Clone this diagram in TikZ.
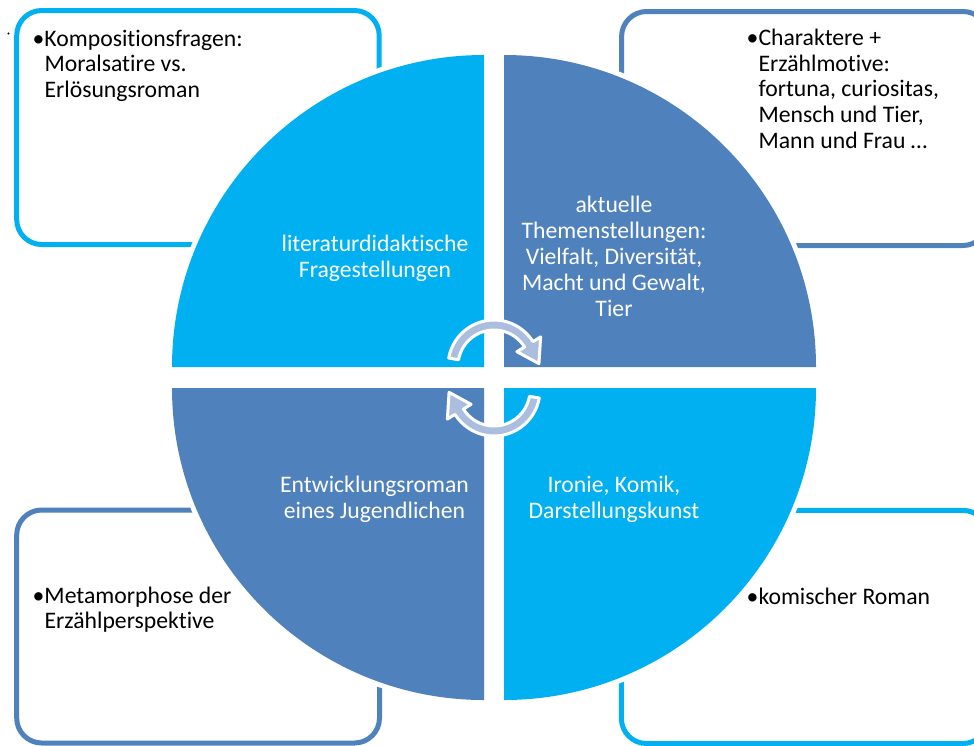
\documentclass[tikz,border=0pt]{standalone}
\usepackage{fontspec}
\setmainfont{Carlito}[Ligatures=NoCommon]
\definecolor{lightb}{HTML}{00B0F0}
\definecolor{steelb}{HTML}{4F81BD}
\definecolor{arrowb}{HTML}{ABBEDD}
\begin{document}
\begin{tikzpicture}[x=1pt,y=-1pt,
  boxline/.style={line width=5pt, rounded corners=25pt},
  halo/.style={draw=white, line width=10pt, line join=round},
  cyc/.style={fill=arrowb, draw=white, line width=3pt, line join=round},
  blacktxt/.style={anchor=base west, align=left, inner sep=0pt, text=black,
    font=\fontsize{23.7}{25.6}\selectfont},
  whitetxt/.style={anchor=base, align=center, inner sep=0pt, text=white,
    font=\fontsize{23.7}{26}\selectfont}]
\useasboundingbox (0,0) rectangle (974,745);
\clip (0,0) rectangle (974,745);
\fill[white] (0,0) rectangle (974,745);

% outer boxes
\draw[boxline, draw=lightb] (16.7,10.5) rectangle (379.2,244.5);
\draw[boxline, draw=steelb] (621.6,11.5) rectangle (988,245.5);
\draw[boxline, draw=steelb] (16.7,510) rectangle (379.5,743);
\draw[boxline, draw=lightb] (621.4,510.4) rectangle (988,743.5);

% small dot top left
\fill[black] (8.5,33.5) circle[radius=1.2];

% quadrant halos
\path[halo] (484,367) -- (172,367) arc[start angle=180,end angle=270,radius=312] -- cycle;
\path[halo] (504,367) -- (504,55) arc[start angle=270,end angle=360,radius=312] -- cycle;
\path[halo] (504,388) -- (816,388) arc[start angle=0,end angle=90,radius=312] -- cycle;
\path[halo] (484,388) -- (484,700) arc[start angle=90,end angle=180,radius=312] -- cycle;

% quadrants
\fill[lightb] (484,367) -- (172,367) arc[start angle=180,end angle=270,radius=312] -- cycle;
\fill[steelb] (504,367) -- (504,55) arc[start angle=270,end angle=360,radius=312] -- cycle;
\fill[lightb] (504,388) -- (816,388) arc[start angle=0,end angle=90,radius=312] -- cycle;
\fill[steelb] (484,388) -- (484,700) arc[start angle=90,end angle=180,radius=312] -- cycle;

% circular arrows
\begin{scope}[shift={(494,366)}]
  \path[cyc] (-170:46) arc[start angle=-170,end angle=-32,radius=46]
    -- (-32:55) -- (-3:45) -- (-32:27) -- (-32:36)
    arc[start angle=-32,end angle=-170,radius=36] -- cycle;
\end{scope}
\begin{scope}[shift={(494,390)}, rotate=180]
  \path[cyc] (-170:46) arc[start angle=-170,end angle=-32,radius=46]
    -- (-32:55) -- (-3:45) -- (-32:27) -- (-32:36)
    arc[start angle=-32,end angle=-170,radius=36] -- cycle;
\end{scope}

% quadrant texts (anchor = baseline of last line)
\node[whitetxt] (q1) at (375,277) {literaturdidaktische\\Fragestellungen};
\node[whitetxt] (q2) at (614,316) {aktuelle\\Themenstellungen:\\Vielfalt, Diversität,\\Macht und Gewalt,\\Tier};
\node[whitetxt] (q3) at (374.5,518) {Entwicklungsroman\\eines Jugendlichen};
\node[whitetxt] (q4) at (614,518) {Ironie, Komik,\\Darstellungskunst};

% box texts (anchor = baseline of last line)
\node[blacktxt] (b1) at (44.3,97.2) {\llap{•}Kompositionsfragen:\\Moralsatire vs.\\Erlösungsroman};
\node[blacktxt] (b2) at (758.3,148) {\llap{•}Charaktere +\\Erzählmotive:\\fortuna, curiositas,\\Mensch und Tier,\\Mann und Frau …};
\node[blacktxt] (b3) at (44.3,628.6) {\llap{•}Metamorphose der\\Erzählperspektive};
\node[blacktxt] (b4) at (758.3,604) {\llap{•}komischer Roman};
\end{tikzpicture}
\end{document}
